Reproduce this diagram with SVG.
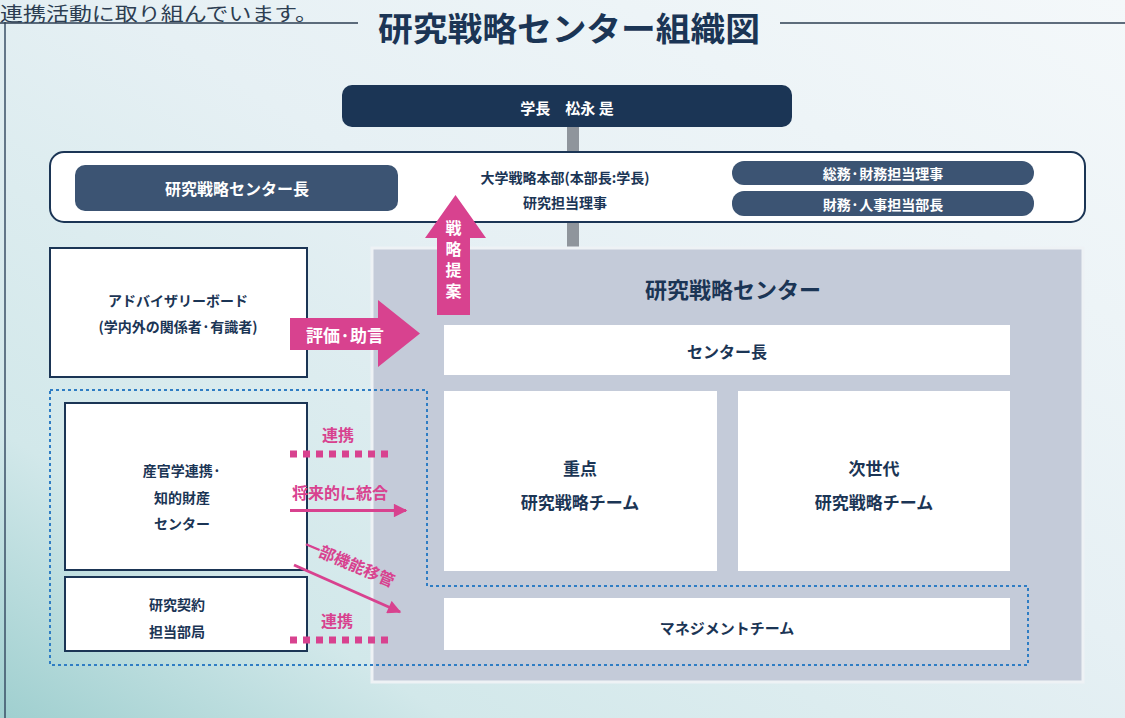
<svg xmlns="http://www.w3.org/2000/svg" width="1125" height="718" viewBox="0 0 1125 718">
<defs>
<linearGradient id="bg" x1="1" y1="0" x2="0" y2="1">
<stop offset="0" stop-color="#f4f8fa"/>
<stop offset="0.45" stop-color="#e6f0f4"/>
<stop offset="0.8" stop-color="#d2e8ea"/>
<stop offset="1" stop-color="#9fcfcf"/>
</linearGradient>
<marker id="ah" viewBox="0 0 10 10" refX="9" refY="5" markerWidth="5" markerHeight="4.5" orient="auto" markerUnits="strokeWidth">
<path d="M0,0 L10,5 L0,10 z" fill="#d8428f"/>
</marker>
<style>
text{font-family:"Noto Sans CJK JP","Noto Sans",sans-serif;font-weight:bold;text-anchor:middle;dominant-baseline:central}
.navy{fill:#1b3555}
.white{fill:#ffffff}
.pink{fill:#d8428f}
.box{fill:#ffffff;stroke:#1b3555;stroke-width:2}
.inner{fill:#ffffff}
.pill{fill:#3c5473}
</style>
</defs>
<rect x="0" y="0" width="1125" height="718" fill="url(#bg)"/>
<line x1="5" y1="22" x2="5" y2="718" stroke="#3a4f66" stroke-width="1.5"/>
<text x="0" y="12" style="text-anchor:start;font-weight:normal;font-size:19px" fill="#2d3e52" textLength="318" lengthAdjust="spacingAndGlyphs">連携活動に取り組んでいます。</text>
<line x1="0" y1="23" x2="358" y2="23" stroke="#2d3e52" stroke-width="1.5"/>
<line x1="780" y1="23" x2="1125" y2="23" stroke="#2d3e52" stroke-width="1.5"/>
<text x="569" y="27" class="navy" style="font-size:33px" textLength="382" lengthAdjust="spacingAndGlyphs">研究戦略センター組織図</text>

<g id="connectors">
<rect x="567" y="125" width="12" height="125" fill="#8f959c"/>
</g>

<g id="center-region">
<rect x="372" y="248" width="711" height="434" fill="#c4cbd9" stroke="#eef2f5" stroke-width="3"/>
<text x="733" y="288" class="navy" style="font-size:22px">研究戦略センター</text>
</g>

<g id="president">
<rect x="342" y="85" width="450" height="42" rx="10" fill="#1b3555"/>
<text x="567" y="107" class="white" style="font-size:15px" xml:space="preserve">学長　松永 是</text>
</g>

<g id="hq">
<rect x="50" y="152" width="1035" height="70" rx="14" class="box"/>
<text x="565" y="177" class="navy" style="font-size:14px">大学戦略本部(本部長:学長)</text>
<text x="565" y="202" class="navy" style="font-size:14px">研究担当理事</text>
</g>
<g id="center-head">
<rect x="75" y="165" width="323" height="46" rx="10" class="pill"/>
<text x="237" y="188" class="white" style="font-size:16px">研究戦略センター長</text>
</g>
<g id="director1">
<rect x="732" y="161" width="302" height="24" rx="12" class="pill"/>
<text x="883" y="173" class="white" style="font-size:14px">総務·財務担当理事</text>
</g>
<g id="director2">
<rect x="732" y="191" width="302" height="25" rx="12" class="pill"/>
<text x="883" y="203.5" class="white" style="font-size:14px">財務·人事担当部長</text>
</g>

<g id="advisory">
<rect x="50" y="248" width="257" height="129" class="box"/>
<text x="178" y="300" class="navy" style="font-size:14px">アドバイザリーボード</text>
<text x="178" y="326" class="navy" style="font-size:14px">(学内外の関係者·有識者)</text>
</g>

<g id="leader">
<rect x="444" y="325" width="566" height="50" class="inner"/>
<text x="727" y="351" class="navy" style="font-size:16px">センター長</text>
</g>
<g id="team-priority">
<rect x="444" y="391" width="273" height="180" class="inner"/>
<text x="580" y="467" class="navy" style="font-size:17px">重点</text>
<text x="580" y="501" class="navy" style="font-size:17px">研究戦略チーム</text>
</g>
<g id="team-next">
<rect x="738" y="391" width="272" height="180" class="inner"/>
<text x="874" y="467" class="navy" style="font-size:17px">次世代</text>
<text x="874" y="501" class="navy" style="font-size:17px">研究戦略チーム</text>
</g>
<g id="management">
<rect x="444" y="598" width="566" height="52" class="inner"/>
<text x="727" y="627" class="navy" style="font-size:15px">マネジメントチーム</text>
</g>

<g id="ip-center">
<rect x="65" y="403" width="242" height="167" class="box"/>
<text x="182" y="470" class="navy" style="font-size:14px">産官学連携·</text>
<text x="182" y="497" class="navy" style="font-size:14px">知的財産</text>
<text x="182" y="523" class="navy" style="font-size:14px">センター</text>
</g>
<g id="contract-office">
<rect x="65" y="577" width="242" height="74" class="box"/>
<text x="177" y="604" class="navy" style="font-size:14px">研究契約</text>
<text x="177" y="631" class="navy" style="font-size:14px">担当部局</text>
</g>

<g id="links">
<path d="M50,390 H427 V586 H1028 V665 H50 Z" fill="none" stroke="#2f7dc4" stroke-width="2" stroke-dasharray="3 3"/>
<path d="M290,318 H378 V300 L420,333.5 L378,367 V350 H290 Z" fill="#d8428f"/>
<text x="345" y="334" class="white" style="font-size:17px">評価·助言</text>
<path d="M437,315 V238 H425 L455.5,195 L486,238 H470 V315 Z" fill="#d8428f"/>
<text x="453.5" y="262" class="white" style="font-size:16px;writing-mode:vertical-rl;letter-spacing:5px">戦略提案</text>
<text x="338" y="434" class="pink" style="font-size:16px">連携</text>
<line x1="290" y1="454" x2="390" y2="454" stroke="#d8428f" stroke-width="7" stroke-dasharray="7 6"/>
<text x="340" y="492" class="pink" style="font-size:16px">将来的に統合</text>
<line x1="290" y1="510.5" x2="406" y2="510.5" stroke="#d8428f" stroke-width="3" marker-end="url(#ah)"/>
<text x="350" y="562" class="pink" style="font-size:16px" transform="rotate(23 350 562)">一部機能移管</text>
<line x1="294" y1="565" x2="400" y2="612" stroke="#d8428f" stroke-width="3" marker-end="url(#ah)"/>
<text x="337" y="620" class="pink" style="font-size:16px">連携</text>
<line x1="290" y1="640" x2="390" y2="640" stroke="#d8428f" stroke-width="7" stroke-dasharray="7 6"/>
</g>
</svg>
